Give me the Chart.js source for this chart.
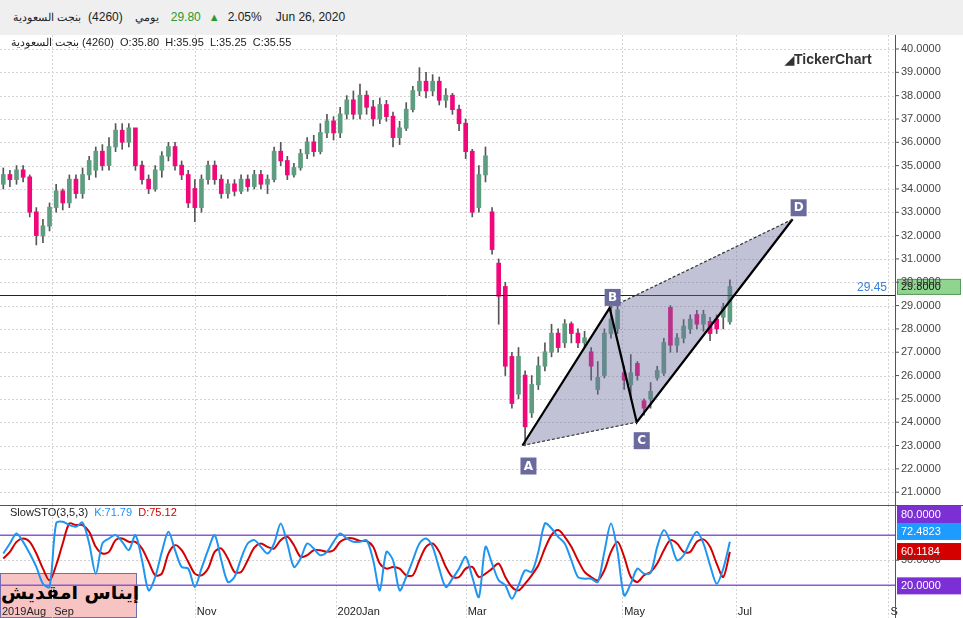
<!DOCTYPE html>
<html>
<head>
<meta charset="utf-8">
<script src="https://cdn.jsdelivr.net/npm/chart.js@4.4.1/dist/chart.umd.min.js"></script>
<style>
  body { margin: 0; width: 963px; height: 618px; overflow: hidden; background: #fff; font-family: "Liberation Sans", Arial, sans-serif; }
  #header { position: absolute; left: 0; top: 0; width: 963px; height: 35px; background: #efefef; font-size: 12px; color: #222; }
  #header .row { position: absolute; left: 13px; top: 10px; white-space: nowrap; display: flex; align-items: baseline; }
  canvas { position: absolute; left: 0; }
  #priceChart { top: 35px; }
  #stoChart { top: 505px; }
  #sep { position: absolute; left: 0; top: 505px; width: 963px; height: 1px; background: #555; }
  #namebox { position: absolute; left: 0; top: 573px; width: 137px; height: 45px; background: #f8c3c3; border: 1px solid #6f6fb0; box-sizing: border-box; font-weight: bold; font-size: 19px; color: #000; text-align: center; line-height: 36px; white-space: nowrap; font-family: "DejaVu Sans", sans-serif; }
  .info { position: absolute; font-size: 11px; color: #222; white-space: nowrap; }
  #logo { position: absolute; left: 785px; top: 51px; font-size: 14px; font-weight: bold; color: #333; font-family: "Liberation Sans", Arial, sans-serif; }
</style>
</head>
<body>
<div id="header">
  <div class="row">
    <bdi style="font-size:11px">بنجت السعودية</bdi>
    <span style="margin-left:7px">(4260)</span>
    <bdi style="margin-left:12px;font-size:11px">يومي</bdi>
    <span style="margin-left:12px;color:#2a9a2a">29.80</span>
    <span style="margin-left:8px;color:#2a9a2a;font-size:11px">▲</span>
    <span style="margin-left:8px">2.05%</span>
    <span style="margin-left:14px">Jun 26, 2020</span>
  </div>
</div>
<div id="namebox"><bdi>إيناس امقديش</bdi></div>
<canvas id="priceChart" width="963" height="470"></canvas>
<canvas id="stoChart" width="963" height="113"></canvas>
<div id="sep"></div>
<div class="info" style="left:11px;top:36px"><bdi>بنجت السعودية</bdi> (4260)&nbsp; O:35.80&nbsp; H:35.95&nbsp; L:35.25&nbsp; C:35.55</div>
<div class="info" style="left:10px;top:506px">SlowSTO(3,5,3)&nbsp; <span style="color:#1e8fff">K:71.79</span>&nbsp; <span style="color:#d00000">D:75.12</span></div>
<div id="logo"><span style="font-size:12px">◢</span>TickerChart</div>
<script>
// candles (one per index)
const opens  = [34.2,34.6,34.4,34.8,34.5,33.0,32.0,32.4,33.2,33.9,33.4,34.4,33.8,34.6,34.8,35.6,35.0,35.8,36.5,36.0,
  36.6,35.0,34.4,34.0,34.8,35.4,35.8,35.0,34.6,34.0,33.2,34.4,35.0,34.4,33.8,34.2,33.9,34.4,34.1,34.6,
  34.2,34.4,35.6,35.2,34.6,34.9,35.5,36.0,35.6,36.4,36.9,36.4,37.2,37.8,37.2,38.0,37.5,37.0,37.6,37.1,
  36.2,36.6,37.4,38.2,38.6,38.2,38.6,37.8,38.0,37.4,36.8,35.6,33.2,34.6,33.0,30.8,29.8,26.8,25.2,26.0,
  24.4,25.6,26.4,27.0,27.8,27.4,28.2,27.8,27.4,27.0,25.4,26.0,27.8,28.0,26.1,25.6,26.5,24.9,25.0,25.9,
  26.1,28.9,27.3,27.6,28.0,28.6,28.2,28.3,28.4,28.5,28.3];
const highs  = [34.9,34.8,35.0,35.0,34.6,33.2,32.7,33.4,34.2,34.0,34.6,34.6,34.9,35.4,35.8,35.9,36.2,36.8,36.8,36.8,
  36.6,35.2,34.6,35.0,35.6,36.0,36.0,35.2,34.8,34.4,34.6,35.2,35.2,34.6,34.4,34.4,34.6,34.6,34.8,34.8,
  34.6,35.8,36.0,35.4,35.1,35.7,36.2,36.3,36.8,37.2,37.1,37.5,38.0,38.2,38.5,38.2,37.8,37.9,37.8,37.3,
  36.9,37.7,38.4,39.2,39.0,38.9,38.8,38.3,38.1,37.6,37.0,35.7,35.0,35.8,33.2,31.0,30.0,27.0,27.2,26.2,
  26.0,26.8,27.4,28.2,28.0,28.4,28.3,28.0,27.9,27.2,26.6,28.0,28.9,29.2,26.4,26.9,26.6,25.0,25.7,26.4,
  27.6,29.0,27.8,28.4,28.6,28.8,28.8,28.5,28.6,29.1,30.1];
const lows   = [34.0,34.1,34.2,34.3,32.8,31.6,31.7,32.2,33.0,33.1,33.2,33.6,33.6,34.4,34.5,34.8,34.8,35.6,35.7,35.8,
  34.8,34.2,33.8,33.9,34.5,35.2,34.8,34.4,33.2,32.6,33.0,34.2,34.2,33.6,33.6,33.7,33.8,33.9,34.0,34.0,
  33.8,34.3,35.0,34.4,34.5,34.8,35.3,35.4,35.5,36.2,36.1,36.2,37.0,37.0,37.0,37.2,36.7,36.8,36.9,35.8,
  35.9,36.5,37.3,38.0,37.9,38.0,37.6,37.5,37.2,36.5,35.3,32.8,33.0,34.3,31.2,28.2,26.0,24.6,25.0,23.0,
  24.2,25.4,26.2,26.8,27.0,27.2,27.4,27.2,27.2,25.8,25.2,25.9,27.6,27.8,25.4,25.0,25.8,24.3,24.6,25.8,
  26.0,27.0,27.0,27.4,27.8,28.0,27.9,27.5,27.8,28.0,28.2];
const closes = [34.6,34.4,34.8,34.5,33.0,32.0,32.4,33.2,33.9,33.4,34.4,33.8,34.6,35.2,35.6,35.0,35.8,36.5,36.0,36.6,
  35.0,34.4,34.0,34.8,35.4,35.8,35.0,34.6,33.4,33.2,34.4,35.0,34.4,33.8,34.2,33.9,34.4,34.1,34.6,34.2,
  34.4,35.6,35.2,34.6,34.9,35.5,36.0,35.6,36.4,36.9,36.4,37.2,37.8,37.2,38.0,37.5,37.0,37.6,37.1,36.2,
  36.6,37.4,38.2,38.6,38.2,38.6,37.8,38.0,37.4,36.8,35.6,33.0,34.6,35.4,31.4,29.4,26.4,24.8,26.8,23.8,
  25.6,26.4,27.0,27.8,27.2,28.2,27.8,27.4,27.6,26.4,25.9,27.8,28.4,28.8,25.8,26.1,26.0,24.6,25.3,26.2,
  27.4,27.3,27.6,28.1,28.4,28.2,28.6,27.8,28.0,28.9,29.8];

// slow stochastic
const stoK = [58,70,82,72,58,42,22,18,94,96,92,90,95,70,34,70,76,80,72,62,80,50,14,30,60,84,62,42,40,18,
  40,62,80,50,24,30,52,70,74,66,58,70,94,70,42,52,70,64,56,60,72,82,76,72,72,74,50,14,60,50,
  14,30,50,70,76,66,40,18,28,40,54,30,6,66,46,26,20,4,20,38,36,60,94,88,78,70,50,30,28,28,
  24,60,94,60,8,22,40,34,35,66,86,72,50,56,72,84,70,44,22,40,72];
const stoD = [52,60,72,76,72,58,40,26,44,70,94,92,92,84,66,58,60,74,76,72,72,64,48,32,34,58,68,62,48,34,
  32,40,60,64,52,36,36,50,65,70,66,64,74,78,68,54,56,62,62,60,62,72,76,76,73,73,66,46,40,42,
  40,32,32,50,66,70,60,42,30,30,40,42,30,34,40,46,30,18,14,22,32,44,64,80,86,78,66,50,36,30,
  26,38,60,72,54,30,24,32,36,46,62,74,70,60,60,72,75,66,46,30,60];

// x axis: month ticks (index position) and labels
const monthPos = [0, 7.4, 29, 50.3, 70, 93.7, 110.9, 134];
const monthLabels = ['2019Aug', 'Sep', 'Nov', '2020Jan', 'Mar', 'May', 'Jul', 'S'];

// harmonic pattern A B C D
const patLabels = ['A', 'B', 'C', 'D'];
const patX = [78.6, 91.8, 95.9, 119.5];
const patY = [23.0, 28.9, 24.0, 32.7];

const levelPrice = 29.45;
const lastPrice = 29.8;
const priceTicks = [21,22,23,24,25,26,27,28,29,30,31,32,33,34,35,36,37,38,39,40];
const stoBoxes = [
  { v: 108, text: '80.0000', color: '#7b2fd4' },
  { v: 85, text: '72.4823', color: '#1e9bff' },
  { v: 61, text: '60.1184', color: '#d40000' },
  { v: 20, text: '20.0000', color: '#7b2fd4' }
];

const X_MIN = -0.5, X_MAX = 135;
const UP = '#5f9d80', DOWN = '#f0087a';
const idx = opens.map((_, i) => i);
const FONT = '11px "Liberation Sans", Arial';

const monthGrid = {
  id: 'monthGrid',
  beforeDatasetsDraw(chart) {
    const { ctx, chartArea: a, scales: { x } } = chart;
    ctx.save();
    ctx.strokeStyle = '#d4d4d4';
    ctx.setLineDash([2, 2]);
    monthPos.slice(1).forEach(p => {
      const px = Math.round(x.getPixelForValue(p)) + 0.5;
      ctx.beginPath(); ctx.moveTo(px, a.top); ctx.lineTo(px, a.bottom); ctx.stroke();
    });
    ctx.restore();
  }
};

const rightAxis = {
  id: 'rightAxis',
  afterDraw(chart, args, opts) {
    const { ctx, chartArea: a, scales: { y } } = chart;
    ctx.save();
    ctx.strokeStyle = '#555'; ctx.lineWidth = 1;
    ctx.beginPath(); ctx.moveTo(a.right + 0.5, 0); ctx.lineTo(a.right + 0.5, chart.height); ctx.stroke();
    ctx.fillStyle = '#444'; ctx.font = FONT; ctx.textAlign = 'left'; ctx.textBaseline = 'middle';
    opts.ticks.forEach(v => {
      const py = y.getPixelForValue(v);
      ctx.beginPath(); ctx.moveTo(a.right, py); ctx.lineTo(a.right + 4, py); ctx.stroke();
      ctx.fillText(v.toFixed(4), a.right + 6, py);
    });
    ctx.restore();
  }
};

const patternPlugin = {
  id: 'pattern',
  afterDatasetsDraw(chart) {
    const { ctx, scales: { x, y }, chartArea: a } = chart;
    const p = patX.map((v, i) => [x.getPixelForValue(v), y.getPixelForValue(patY[i])]);
    ctx.save();
    const ly = Math.round(y.getPixelForValue(levelPrice)) + 0.5;
    ctx.strokeStyle = '#222'; ctx.lineWidth = 1;
    ctx.beginPath(); ctx.moveTo(a.left, ly); ctx.lineTo(a.right, ly); ctx.stroke();
    ctx.fillStyle = '#3b7fd9'; ctx.font = '12px "Liberation Sans"'; ctx.textAlign = 'right'; ctx.textBaseline = 'bottom';
    ctx.fillText(levelPrice.toFixed(2), a.right - 8, ly - 2);
    ctx.fillStyle = 'rgba(110,110,160,0.42)';
    ctx.beginPath(); ctx.moveTo(...p[0]); ctx.lineTo(...p[1]); ctx.lineTo(...p[3]); ctx.lineTo(...p[2]); ctx.closePath(); ctx.fill();
    ctx.strokeStyle = '#000'; ctx.lineWidth = 2.2;
    ctx.beginPath(); ctx.moveTo(...p[0]); ctx.lineTo(...p[1]); ctx.lineTo(...p[2]); ctx.lineTo(...p[3]); ctx.stroke();
    ctx.lineWidth = 1.2; ctx.setLineDash([3, 2]); ctx.strokeStyle = '#333';
    ctx.beginPath(); ctx.moveTo(...p[0]); ctx.lineTo(...p[2]); ctx.moveTo(...p[1]); ctx.lineTo(...p[3]); ctx.stroke();
    ctx.setLineDash([]);
    const off = [[6, 20], [3, -11], [5, 18], [6, -12]];
    ctx.font = 'bold 12px "DejaVu Sans"'; ctx.textAlign = 'center'; ctx.textBaseline = 'middle';
    patLabels.forEach((t, i) => {
      const cx = p[i][0] + off[i][0], cy = p[i][1] + off[i][1];
      ctx.fillStyle = '#6a6a9e'; ctx.fillRect(cx - 8, cy - 8, 16, 17);
      ctx.fillStyle = '#fff'; ctx.fillText(t, cx, cy + 1);
    });
    ctx.restore();
  },
  afterDraw(chart) {
    const { ctx, scales: { y }, chartArea: a } = chart;
    const cy = y.getPixelForValue(lastPrice);
    ctx.save();
    ctx.fillStyle = '#8fd48f'; ctx.fillRect(a.right + 2, cy - 8, 64, 16);
    ctx.strokeStyle = '#5a9a5a'; ctx.lineWidth = 1; ctx.strokeRect(a.right + 2.5, cy - 7.5, 63, 15);
    ctx.fillStyle = '#111'; ctx.font = FONT; ctx.textAlign = 'left'; ctx.textBaseline = 'middle';
    ctx.fillText(lastPrice.toFixed(4), a.right + 6, cy);
    ctx.restore();
  }
};

const hiddenY = (min, max) => ({
  position: 'right', min, max,
  afterFit: s => { s.width = 68; },
  ticks: { display: false },
  grid: { display: false },
  border: { display: false }
});

new Chart(document.getElementById('priceChart'), {
  type: 'bar',
  data: {
    datasets: [
      {
        data: idx.map(i => ({ x: i, y: [lows[i], highs[i]] })),
        backgroundColor: '#555', barThickness: 1, grouped: false, order: 2
      },
      {
        data: idx.map(i => ({ x: i, y: [Math.min(opens[i], closes[i]), Math.max(opens[i], closes[i]) + 0.02] })),
        backgroundColor: idx.map(i => closes[i] >= opens[i] ? UP : DOWN),
        barThickness: 4, grouped: false, order: 1
      }
    ]
  },
  options: {
    animation: false, responsive: false,
    layout: { padding: 0 },
    plugins: { legend: { display: false }, tooltip: { enabled: false }, rightAxis: { ticks: priceTicks } },
    scales: {
      x: { type: 'linear', min: X_MIN, max: X_MAX, offset: false, display: false },
      y: hiddenY(20.45, 40.6)
    }
  },
  plugins: [monthGrid, {
    id: 'hgrid',
    beforeDatasetsDraw(chart) {
      const { ctx, chartArea: a, scales: { y } } = chart;
      ctx.save(); ctx.strokeStyle = '#d4d4d4'; ctx.setLineDash([2, 2]);
      priceTicks.forEach(v => {
        const py = Math.round(y.getPixelForValue(v)) + 0.5;
        ctx.beginPath(); ctx.moveTo(a.left, py); ctx.lineTo(a.right, py); ctx.stroke();
      });
      ctx.restore();
    }
  }, patternPlugin, rightAxis]
});

const stoPlugin = {
  id: 'sto',
  beforeDatasetsDraw(chart) {
    const { ctx, scales: { y }, chartArea: a } = chart;
    ctx.save();
    ctx.strokeStyle = '#d0d0d0'; ctx.setLineDash([2, 2]);
    const my = Math.round(y.getPixelForValue(50)) + 0.5;
    ctx.beginPath(); ctx.moveTo(a.left, my); ctx.lineTo(a.right, my); ctx.stroke();
    ctx.setLineDash([]);
    ctx.strokeStyle = '#8a5ad8'; ctx.lineWidth = 1.5;
    [80, 20].forEach(v => {
      const py = y.getPixelForValue(v);
      ctx.beginPath(); ctx.moveTo(a.left, py); ctx.lineTo(a.right, py); ctx.stroke();
    });
    ctx.restore();
  },
  afterDraw(chart) {
    const { ctx, scales: { x, y }, chartArea: a } = chart;
    ctx.save();
    ctx.font = FONT; ctx.textBaseline = 'middle'; ctx.textAlign = 'left';
    stoBoxes.forEach(b => {
      const py = Math.min(Math.max(y.getPixelForValue(b.v), a.top + 9), a.bottom - 8);
      ctx.fillStyle = b.color; ctx.fillRect(a.right + 2, py - 8, 64, 17);
      ctx.fillStyle = '#fff'; ctx.fillText(b.text, a.right + 6, py + 1);
    });
    ctx.fillStyle = '#222'; ctx.textBaseline = 'bottom';
    monthLabels.forEach((t, i) => {
      const px = i === 0 ? 2 : x.getPixelForValue(monthPos[i]) + 2;
      ctx.fillText(t, px, a.bottom - 1);
    });
    ctx.restore();
  }
};

new Chart(document.getElementById('stoChart'), {
  type: 'line',
  data: {
    datasets: [
      { data: idx.map(i => ({ x: i, y: stoK[i] })), borderColor: '#1e95f0', borderWidth: 2, pointRadius: 0, tension: 0.3 },
      { data: idx.map(i => ({ x: i, y: stoD[i] })), borderColor: '#d20000', borderWidth: 2, pointRadius: 0, tension: 0.3 }
    ]
  },
  options: {
    animation: false, responsive: false,
    layout: { padding: 0 },
    plugins: { legend: { display: false }, tooltip: { enabled: false }, rightAxis: { ticks: [50] } },
    scales: {
      x: { type: 'linear', min: X_MIN, max: X_MAX, display: false },
      y: hiddenY(-19, 116)
    }
  },
  plugins: [monthGrid, stoPlugin, rightAxis]
});
</script>
</body>
</html>
